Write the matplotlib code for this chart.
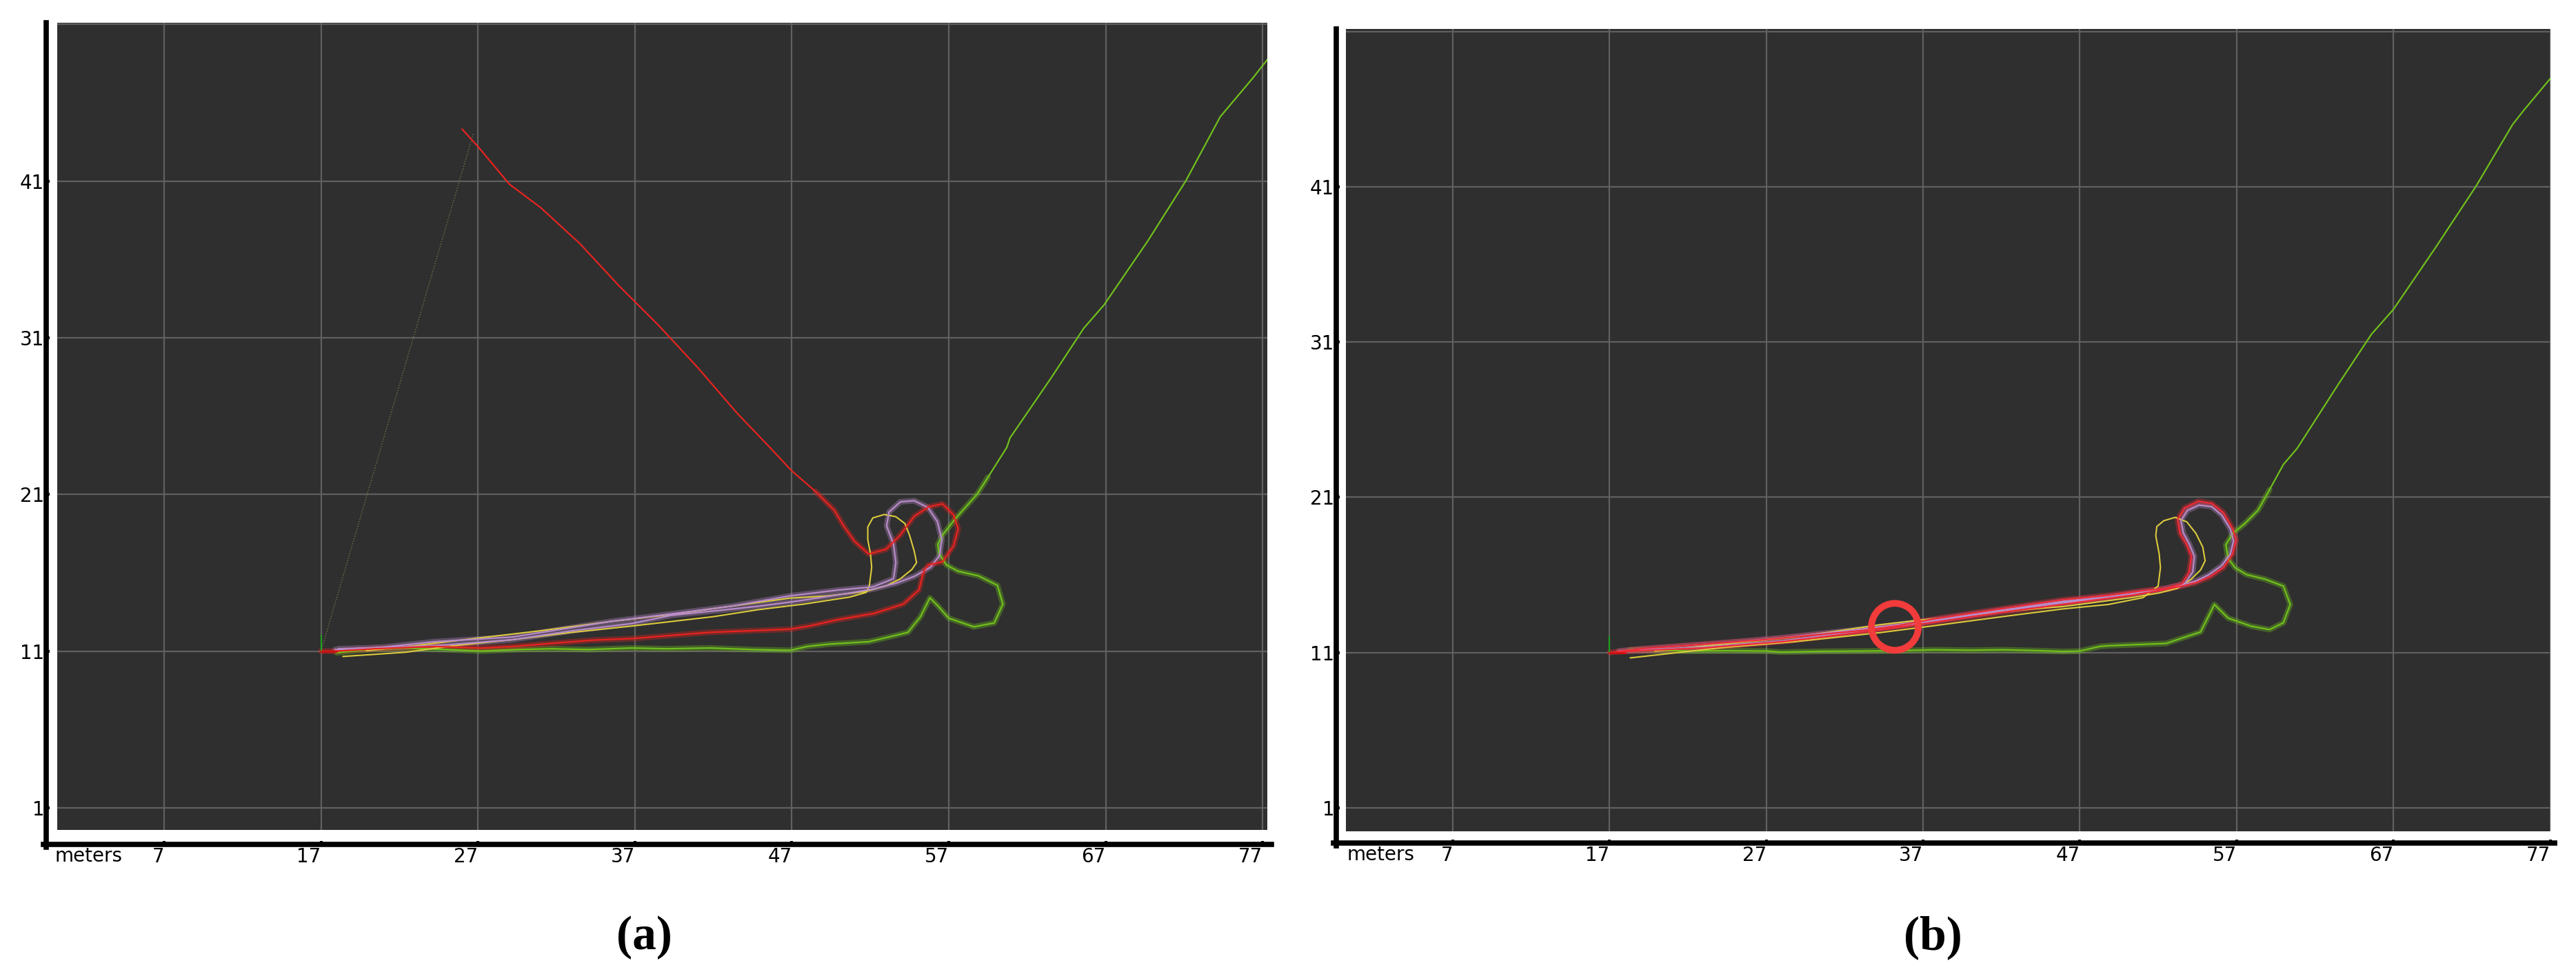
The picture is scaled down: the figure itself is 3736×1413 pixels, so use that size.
import numpy as np
import matplotlib.pyplot as plt

# axis ticks in meters
x_ticks = [7, 17, 27, 37, 47, 57, 67, 77]
y_ticks = [1, 11, 21, 31, 41]

# ---- panel (a) trajectories ----
red_a_x = [26.0, 27.0, 28.0, 29.0, 31.0, 33.5, 36.0, 38.5, 41.0, 43.5, 45.6, 47.0, 48.5, 49.7, 50.3, 51.0,
           51.9, 53.0, 53.9, 54.8, 55.7, 56.6, 57.3, 57.6, 57.3, 56.6, 55.7, 55.4, 55.1, 54.1, 52.2, 49.9,
           48.1, 46.9, 41.8, 36.8, 34.3, 29.2, 27.2, 24.2, 20.4, 18.0, 17.0]
red_a_y = [44.3, 43.2, 42.0, 40.8, 39.3, 37.0, 34.3, 31.8, 29.1, 26.2, 24.0, 22.5, 21.2, 20.0, 19.0, 18.0,
           17.2, 17.5, 18.4, 19.6, 20.2, 20.4, 19.7, 18.8, 17.7, 16.7, 16.5, 16.1, 14.9, 14.0, 13.4, 13.0,
           12.6, 12.4, 12.2, 11.8, 11.7, 11.3, 11.2, 11.3, 11.15, 11.0, 11.0]

green_a_x = [18.0, 20.0, 22.4, 25.0, 27.2, 29.5, 31.7, 34.0, 36.8, 39.0, 41.8, 44.5, 46.9, 48.0, 49.4, 51.9,
             53.6, 54.4, 55.2, 55.8, 56.3, 57.0, 58.6, 59.9, 60.45, 60.1, 58.9, 57.6, 56.85, 56.4, 56.3, 56.6,
             57.3, 57.9, 58.8, 59.5, 60.7, 60.9, 63.5, 65.6, 66.9, 69.7, 72.1, 74.3, 76.4, 77.5]
green_a_y = [10.9, 11.1, 11.2, 11.1, 11.0, 11.1, 11.15, 11.1, 11.2, 11.15, 11.2, 11.1, 11.05, 11.3, 11.45, 11.6,
             12.0, 12.2, 13.2, 14.4, 13.9, 13.1, 12.55, 12.8, 14.0, 15.2, 15.8, 16.1, 16.5, 17.2, 17.8, 18.4,
             19.3, 20.0, 21.0, 22.1, 24.0, 24.6, 28.4, 31.6, 33.1, 37.2, 41.0, 45.1, 47.6, 49.0]

purple_a_x = [17.9, 20.65, 24.2, 29.2, 35.5, 39.5, 43.1, 46.85, 49.96, 52.16, 53.48, 53.63, 53.48, 53.04, 53.19,
              53.92, 54.8, 55.68, 56.27, 56.56, 56.41, 55.83, 54.8, 53.63, 52.16, 49.96, 47.03, 44.83, 39.3,
              36.8, 33.0, 29.2, 25.0, 21.66, 18.1]
purple_a_y = [11.1, 11.22, 11.6, 11.9, 12.9, 13.4, 13.86, 14.52, 14.9, 15.1, 15.62, 16.65, 17.82, 18.99, 19.87,
              20.53, 20.6, 20.16, 19.28, 18.11, 17.09, 16.35, 15.77, 15.33, 14.96, 14.59, 14.15, 13.86, 13.28,
              12.76, 12.3, 11.73, 11.4, 11.25, 11.15]

yellow_a_x = [18.4, 20.5, 22.4, 25.5, 29.2, 33.0, 36.8, 42.0, 44.83, 47.76, 50.7, 51.72, 51.94, 52.09, 52.01,
              51.84, 51.84, 52.16, 52.89, 53.63, 54.21, 54.5, 54.8, 54.95, 54.65, 53.92, 53.04, 51.72, 49.23,
              46.85, 43.0, 39.0, 35.5, 31.0, 26.7, 22.9, 19.9]
yellow_a_y = [10.66, 10.8, 10.93, 11.35, 11.73, 12.2, 12.6, 13.2, 13.64, 14.0, 14.45, 14.74, 15.18, 16.35, 17.23,
              18.11, 18.92, 19.5, 19.72, 19.58, 19.14, 18.4, 17.38, 16.65, 16.21, 15.62, 15.18, 14.81, 14.52,
              14.38, 13.85, 13.3, 12.9, 12.3, 11.8, 11.34, 11.03]

# faint dotted link from the origin to the start of the red run
link_a_x = [17.0, 26.7]
link_a_y = [11.0, 44.0]

# ---- panel (b) trajectories ----
red_b_x = [17.0, 19.0, 22.1, 27.0, 33.2, 35.4, 37.7, 42.1, 45.9, 48.83, 51.03, 52.5, 53.52, 53.96, 54.11, 53.82,
           53.38, 53.23, 53.67, 54.55, 55.43, 56.16, 56.75, 56.97, 56.75, 56.16, 55.28, 54.4, 53.52, 52.06,
           50.3, 48.1, 45.9, 42.1, 37.7, 33.5, 28.0, 23.0, 19.5, 17.5]
red_b_y = [11.0, 11.25, 11.47, 11.84, 12.43, 12.73, 13.17, 13.84, 14.4, 14.69, 14.99, 15.14, 15.43, 16.17, 17.2,
           17.94, 18.68, 19.57, 20.31, 20.75, 20.6, 20.01, 18.98, 18.24, 17.35, 16.47, 15.87, 15.5, 15.28, 14.99,
           14.69, 14.4, 14.1, 13.6, 12.95, 12.35, 11.7, 11.3, 11.15, 11.05]

purple_b_x = [17.6, 20.0, 24.0, 28.0, 33.0, 37.7, 42.1, 45.9, 48.83, 51.03, 52.6, 53.7, 54.2, 54.3, 54.0, 53.6,
              53.45, 53.85, 54.6, 55.4, 56.05, 56.6, 56.8, 56.6, 56.05, 55.2, 54.4, 53.5, 52.06, 50.3, 48.1,
              45.9, 42.1, 37.7, 33.0, 28.0, 23.0, 19.0]
purple_b_y = [11.1, 11.3, 11.6, 11.95, 12.5, 13.1, 13.75, 14.3, 14.6, 14.9, 15.1, 15.45, 16.2, 17.2, 17.95, 18.7,
              19.5, 20.15, 20.5, 20.4, 19.85, 18.95, 18.2, 17.35, 16.6, 16.0, 15.6, 15.35, 15.05, 14.75, 14.45,
              14.2, 13.7, 13.05, 12.4, 11.75, 11.35, 11.15]

yellow_b_x = [18.33, 21.0, 24.3, 28.8, 34.3, 37.7, 42.1, 45.9, 48.83, 51.03, 51.99, 52.14, 52.06, 51.84, 51.91,
              52.35, 53.08, 53.82, 54.4, 54.84, 54.99, 54.7, 54.11, 53.23, 52.06, 50.3, 48.1, 45.9, 44.3, 39.9,
              36.6, 34.3, 28.8, 24.3, 19.9]
yellow_b_y = [10.66, 10.96, 11.33, 11.7, 12.29, 12.73, 13.32, 13.81, 14.1, 14.54, 15.28, 16.47, 17.35, 18.53,
              19.12, 19.49, 19.71, 19.42, 18.68, 17.79, 16.91, 16.32, 15.73, 15.14, 14.84, 14.54, 14.25, 13.96,
              13.84, 13.4, 13.07, 12.8, 11.99, 11.55, 11.1]

green_b_x = [18.3, 20.0, 22.1, 24.5, 27.0, 27.9, 30.5, 33.2, 35.5, 37.7, 40.0, 42.1, 44.5, 45.9, 47.0, 48.3,
             48.83, 50.3, 52.5, 54.7, 55.58, 56.46, 57.92, 59.1, 59.98, 60.42, 59.98, 58.8, 57.63, 56.9, 56.46,
             56.31, 56.75, 57.48, 58.36, 59.1, 59.98, 60.86, 63.5, 65.6, 67.0, 69.7, 72.25, 74.6, 75.3, 77.2]
green_b_y = [11.18, 11.15, 11.1, 11.12, 11.1, 11.03, 11.08, 11.1, 11.12, 11.18, 11.15, 11.18, 11.12, 11.07, 11.1,
             11.4, 11.44, 11.5, 11.59, 12.33, 14.1, 13.22, 12.7, 12.48, 12.92, 14.1, 15.28, 15.73, 16.02, 16.47,
             17.06, 17.94, 18.68, 19.27, 20.16, 21.49, 23.11, 24.15, 28.3, 31.5, 33.1, 37.1, 41.0, 45.0, 45.9, 48.2]

# highlighted spot in panel (b)
circle_b_x = [35.2]
circle_b_y = [12.66]

RED = '#e8231f'
GREEN = '#70c01c'
PURPLE = '#b88bc9'
YELLOW = '#dccb3c'
GRID = '#606060'
FS = 20

W, H = 3737, 1413
fig = plt.figure(figsize=(W / 100, H / 100), dpi=100)


def setup(ax, xlim, ylim, left_out, bottom_out):
    ax.set_facecolor('#2f2f2f')
    ax.set_xlim(*xlim)
    ax.set_ylim(*ylim)
    ax.set_xticks(x_ticks)
    ax.set_yticks(y_ticks)
    ax.grid(True, color=GRID, linewidth=1.6)
    ax.axhline(51, color=GRID, linewidth=1.6, zorder=0.5)
    ax.set_axisbelow(True)
    ax.spines['top'].set_visible(False)
    ax.spines['right'].set_visible(False)
    ax.spines['left'].set_position(('outward', left_out))
    ax.spines['bottom'].set_position(('outward', bottom_out))
    for s in ['left', 'bottom']:
        ax.spines[s].set_linewidth(5.5)
        ax.spines[s].set_color('black')
    # stretch the spines so they meet in the corner
    bb = ax.get_position()
    px_x = (xlim[1] - xlim[0]) / (bb.width * W)
    px_y = (ylim[1] - ylim[0]) / (bb.height * H)
    ax.spines['left'].set_bounds(ylim[0] - (bottom_out * 1.389 + 4) * px_y, ylim[1])
    ax.spines['bottom'].set_bounds(xlim[0] - (left_out * 1.389 + 4) * px_x, xlim[1] + 6 * px_x)
    ax.tick_params(direction='in', length=3.5, width=3, labelsize=FS, color='black')
    ax.tick_params(axis='x', pad=3)
    ax.tick_params(axis='y', pad=2)
    for lab in ax.get_xticklabels():
        lab.set_horizontalalignment('right')


def trace(ax, xs, ys, color, fan=True, lw=1.6):
    xs = np.asarray(xs)
    ys = np.asarray(ys)
    if fan:
        # the heading arrows make a fuzzy band where the robot moves slowly (near the loops)
        fy = np.where(ys < 22.5, ys, np.nan)
        ax.plot(xs, fy, color=color, linewidth=6, alpha=0.35, solid_capstyle='round', zorder=3)
    ax.plot(xs, ys, color=color, linewidth=lw, zorder=4)


# panel (a)
ax_a = fig.add_axes([83 / W, 1 - 1204 / H, (1838 - 83) / W, (1204 - 33) / H])
setup(ax_a, (0.19, 77.3), (-0.41, 51.1), 11.5, 15)
ax_a.plot(link_a_x, link_a_y, color='#77774a', linewidth=1, linestyle=':', zorder=2)
trace(ax_a, green_a_x, green_a_y, GREEN)
trace(ax_a, yellow_a_x, yellow_a_y, YELLOW, fan=False, lw=1.5)
trace(ax_a, purple_a_x, purple_a_y, PURPLE)
trace(ax_a, red_a_x, red_a_y, RED)
ax_a.plot([17, 17], [11, 12.0], color='#1fa01f', linewidth=1.5, zorder=5)
ax_a.plot([17, 18], [11, 11], color='#d01010', linewidth=2, zorder=5)

# panel (b)
ax_b = fig.add_axes([1952 / W, 1 - 1206 / H, (3699 - 1952) / W, (1206 - 42) / H])
setup(ax_b, (0.18, 77.02), (-0.51, 51.16), 10, 12)
trace(ax_b, green_b_x, green_b_y, GREEN)
trace(ax_b, yellow_b_x, yellow_b_y, YELLOW, fan=False, lw=1.5)
trace(ax_b, purple_b_x, purple_b_y, PURPLE)
trace(ax_b, red_b_x, red_b_y, '#ef2a35')
ax_b.plot([17, 17], [11, 12.0], color='#1fa01f', linewidth=1.5, zorder=5)
ax_b.plot([17, 18], [11, 11], color='#d01010', linewidth=2, zorder=5)
ax_b.scatter(circle_b_x, circle_b_y, s=2400, facecolors='none', edgecolors='#f23b3b',
             linewidths=7, zorder=6)

# "meters" unit labels and captions
fig.text(80 / W, 1 - 1242 / H, 'meters', ha='left', va='center', fontsize=FS)
fig.text(1954 / W, 1 - 1240 / H, 'meters', ha='left', va='center', fontsize=FS)
fig.text(934 / W, 1 - 1360 / H, '(a)', ha='center', va='center', fontsize=50,
         fontweight='bold', family='Liberation Serif')
fig.text(2803 / W, 1 - 1360 / H, '(b)', ha='center', va='center', fontsize=50,
         fontweight='bold', family='Liberation Serif')

fig.savefig('out.png', dpi=100, facecolor='white')
